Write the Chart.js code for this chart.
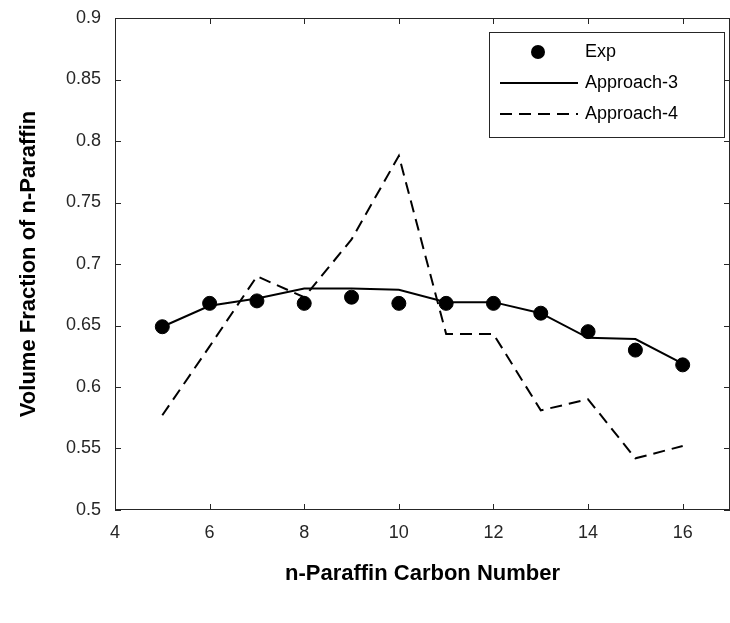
<!DOCTYPE html>
<html>
<head>
<meta charset="utf-8">
<script src="https://cdn.jsdelivr.net/npm/chart.js@4/dist/chart.umd.min.js"></script>
<style>
  html, body { margin: 0; padding: 0; background: #fff; overflow: hidden; }
  #wrap { width: 730px; height: 623px; overflow: hidden; }
</style>
</head>
<body>
<div id="wrap"><canvas id="c" width="738" height="623"></canvas></div>
<script>
const carbonNumbers = [5, 6, 7, 8, 9, 10, 11, 12, 13, 14, 15, 16];
const expValues = [0.649, 0.668, 0.670, 0.668, 0.673, 0.668, 0.668, 0.668, 0.660, 0.645, 0.630, 0.618];
const approach3 = [0.649, 0.666, 0.672, 0.680, 0.680, 0.679, 0.669, 0.669, 0.660, 0.640, 0.639, 0.619];
const approach4 = [0.577, 0.633, 0.690, 0.673, 0.720, 0.788, 0.643, 0.643, 0.581, 0.590, 0.542, 0.552];
const xTicks = [4, 6, 8, 10, 12, 14, 16];
const yTicks = [0.5, 0.55, 0.6, 0.65, 0.7, 0.75, 0.8, 0.85, 0.9];

const pts = (ys) => carbonNumbers.map((x, i) => ({ x: x, y: ys[i] }));
const FONT = 'Liberation Sans, Arial, sans-serif';

// MATLAB-like frame, inward ticks and legend box
const frame = {
  id: 'frame',
  afterDraw(chart) {
    const { ctx, chartArea: a, scales } = chart;
    ctx.save();
    ctx.strokeStyle = '#262626';
    ctx.lineWidth = 1;
    ctx.strokeRect(a.left + 0.5, a.top + 0.5, a.right - a.left - 1, a.bottom - a.top - 1);
    ctx.beginPath();
    xTicks.forEach(t => {
      const px = Math.round(scales.x.getPixelForValue(t)) + 0.5;
      ctx.moveTo(px, a.bottom); ctx.lineTo(px, a.bottom - 6);
      ctx.moveTo(px, a.top); ctx.lineTo(px, a.top + 6);
    });
    yTicks.forEach(t => {
      const py = Math.round(scales.y.getPixelForValue(t)) + 0.5;
      ctx.moveTo(a.left, py); ctx.lineTo(a.left + 6, py);
      ctx.moveTo(a.right, py); ctx.lineTo(a.right - 6, py);
    });
    ctx.stroke();

    // legend
    const lx = 489, ly = 32, lw = 235, lh = 105;
    ctx.fillStyle = '#fff';
    ctx.fillRect(lx, ly, lw, lh);
    ctx.strokeRect(lx + 0.5, ly + 0.5, lw, lh);
    ctx.font = '18px ' + FONT;
    ctx.fillStyle = '#000';
    ctx.textBaseline = 'middle';
    const rows = ['Exp', 'Approach-3', 'Approach-4'];
    rows.forEach((r, i) => {
      const cy = ly + 20 + i * 31;
      ctx.fillText(r, 585, cy);
      ctx.strokeStyle = '#000';
      ctx.lineWidth = 2;
      if (i === 0) {
        ctx.beginPath(); ctx.arc(538, cy, 7, 0, Math.PI * 2); ctx.fill();
      } else {
        ctx.setLineDash(i === 2 ? [12, 7] : []);
        ctx.beginPath(); ctx.moveTo(500, cy); ctx.lineTo(578, cy); ctx.stroke();
        ctx.setLineDash([]);
      }
    });
    ctx.restore();
  }
};

new Chart(document.getElementById('c'), {
  type: 'scatter',
  data: {
    datasets: [
      { label: 'Approach-4', data: pts(approach4), showLine: true, borderColor: '#000', borderWidth: 2,
        borderDash: [12, 7], pointRadius: 0, fill: false, order: 3 },
      { label: 'Approach-3', data: pts(approach3), showLine: true, borderColor: '#000', borderWidth: 2,
        pointRadius: 0, fill: false, order: 2 },
      { label: 'Exp', data: pts(expValues), showLine: false, backgroundColor: '#000', borderColor: '#000',
        pointRadius: 7, order: 1 }
    ]
  },
  options: {
    responsive: false,
    animation: false,
    layout: { padding: { top: 18, right: 0, left: 12, bottom: 32 } },
    plugins: { legend: { display: false }, tooltip: { enabled: false } },
    scales: {
      x: {
        type: 'linear', min: 4, max: 17,
        afterBuildTicks: s => { s.ticks = xTicks.map(v => ({ value: v })); },
        afterFit: s => { s.height = 81; },
        grid: { display: false }, border: { display: false },
        ticks: { color: '#262626', font: { family: FONT, size: 18 }, padding: 4 },
        title: { display: true, text: 'n-Paraffin Carbon Number', color: '#000',
                 font: { family: FONT, size: 22, weight: 'bold' }, padding: { top: 8 } }
      },
      y: {
        type: 'linear', min: 0.5, max: 0.9,
        afterBuildTicks: s => { s.ticks = yTicks.map(v => ({ value: v })); },
        afterFit: s => { s.width = 103; },
        grid: { display: false }, border: { display: false },
        ticks: { color: '#262626', font: { family: FONT, size: 18 }, padding: 6,
                 callback: v => String(Math.round(v * 100) / 100) },
        title: { display: true, text: 'Volume Fraction of n-Paraffin', color: '#000',
                 font: { family: FONT, size: 22, weight: 'bold' }, padding: { bottom: 8 } }
      }
    }
  },
  plugins: [frame]
});
</script>
</body>
</html>
